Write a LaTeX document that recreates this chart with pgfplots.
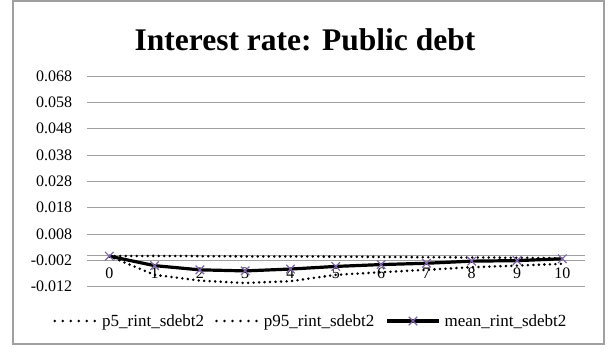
\documentclass[border=0pt]{standalone}
\usepackage{fontspec}
\setmainfont{Liberation Serif}
\usepackage{pgfplots}
\pgfplotsset{compat=1.18}
\definecolor{gridc}{HTML}{A0A0A0}
\definecolor{markc}{HTML}{7F64A8}
\begin{document}
\begin{tikzpicture}
\path[use as bounding box] (0bp,0bp) rectangle (611bp,352bp);
\draw[gridc, line width=1.3bp] (13bp,8bp) rectangle (604bp,351bp);
\node[anchor=base, font=\fontsize{31.5bp}{34bp}\selectfont\bfseries] at (305bp,301bp) {Interest rate: Public debt};
\begin{axis}[
  at={(86.6bp,65.3bp)}, anchor=south west,
  scale only axis, width=498.4bp, height=210.7bp,
  xmin=-0.5, xmax=10.5, ymin=-0.012, ymax=0.068,
  scaled y ticks=false,
  axis x line*=middle, axis y line*=left,
  x axis line style={draw=gridc, line width=1bp},
  y axis line style={draw=none},
  major tick length=0pt,
  xtick={0,1,2,3,4,5,6,7,8,9,10},
  xticklabels={0,1,2,3,4,5,6,7,8,9,10},
  ytick={-0.012,-0.002,0.008,0.018,0.028,0.038,0.048,0.058,0.068},
  yticklabels={-0.012,-0.002,0.008,0.018,0.028,0.038,0.048,0.058,0.068},
  ymajorgrids, grid style={draw=gridc, line width=1bp},
  tick label style={font=\fontsize{16bp}{18bp}\selectfont},
  xticklabel style={yshift=-9bp},
  yticklabel style={xshift=-11bp},
  clip=false,
  legend columns=3,
  legend style={draw=none, fill=none, at={(0.45,-0.163)}, anchor=center,
    font=\fontsize{17bp}{19bp}\selectfont, column sep=2bp,
    /tikz/every even column/.append style={column sep=9bp}},
  legend cell align=left,
  legend image code/.code={\draw[#1, mark repeat=2, mark phase=2] plot coordinates {(0bp,0bp) (26bp,0bp) (52bp,0bp)};},
]
\addplot[black, line width=2.8bp, line cap=round, dash pattern=on 0bp off 5.5bp,
  legend image code/.code={\draw[black, line width=2.8bp, line cap=round, dash pattern=on 0bp off 8bp] (6bp,0bp) -- (48bp,0bp);}] coordinates {
(0,-0.0004) (1,-0.0075) (2,-0.0097) (3,-0.0106) (4,-0.0099) (5,-0.0075) (6,-0.0065) (7,-0.0056) (8,-0.0046) (9,-0.0040) (10,-0.0033)};
\addlegendentry{p5\_rint\_sdebt2}
\addplot[black, line width=2.8bp, line cap=round, dash pattern=on 0bp off 5.5bp,
  legend image code/.code={\draw[black, line width=2.8bp, line cap=round, dash pattern=on 0bp off 8bp] (6bp,0bp) -- (48bp,0bp);}] coordinates {
(0,-0.0004) (1,-0.0003) (2,-0.0004) (3,-0.0005) (4,-0.0005) (5,-0.0006) (6,-0.0007) (7,-0.0008) (8,-0.0009) (9,-0.0010) (10,-0.0012)};
\addlegendentry{p95\_rint\_sdebt2}
\addplot[black, line width=3.2bp, mark=x, mark size=6bp, mark options={draw=markc, line width=1.2bp, solid}] coordinates {
(0,-0.0004) (1,-0.0040) (2,-0.0056) (3,-0.0060) (4,-0.0053) (5,-0.0043) (6,-0.0036) (7,-0.0031) (8,-0.0023) (9,-0.0021) (10,-0.0014)};
\addlegendentry{mean\_rint\_sdebt2}
\end{axis}
\end{tikzpicture}
\end{document}
